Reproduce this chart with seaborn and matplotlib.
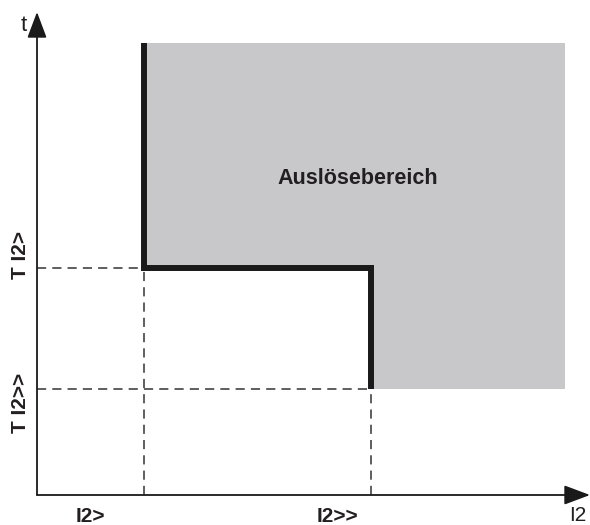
import pandas as pd
import matplotlib.pyplot as plt
import seaborn as sns

# Kennlinie: Schwellwerte (I2 in Einheiten von I2>, t in Einheiten von T I2>>)
i_pick = 1.0        # I2>
i_high = 3.12       # I2>>
t_pick = 2.14       # T I2>
t_high = 1.0        # T I2>>
i_end = 4.94        # rechter Rand Auslösebereich
t_end = 4.27        # oberer Rand Auslösebereich

x_ticklabels = ['I2>', 'I2>>']
y_ticklabels = ['T I2>', 'T I2>>']

sns.set_style('white')
plt.rcParams['font.family'] = ['Liberation Sans', 'DejaVu Sans']

fig = plt.figure(figsize=(5.9, 5.25), dpi=100)
ax = fig.add_axes([37 / 590, 30 / 525, 553 / 590, 483 / 525])
ax.set_xlim(0, 5.17)
ax.set_ylim(0, 4.56)
ax.axis('off')

# Auslösebereich (grau)
ax.fill([i_pick, i_end, i_end, i_high, i_high, i_pick],
        [t_end, t_end, t_high, t_high, t_pick, t_pick],
        color='#c8c8ca', lw=0, zorder=1)

# Hilfslinien (gestrichelt)
dash = dict(color='#333333', lw=1.1, ls=(0, (6, 4)), zorder=2)
ax.plot([0, i_pick], [t_pick, t_pick], **dash)
ax.plot([i_pick, i_pick], [0, t_pick], **dash)
ax.plot([0, i_high], [t_high, t_high], **dash)
ax.plot([i_high, i_high], [0, t_high], **dash)

# Kennlinie (dick)
curve = pd.DataFrame({'I2': [i_pick, i_pick, i_high, i_high],
                      't': [t_end, t_pick, t_pick, t_high]})
sns.lineplot(data=curve, x='I2', y='t', sort=False, estimator=None,
             color='#1a1a1a', lw=4.3, ax=ax, zorder=3)
ax.lines[-1].set_solid_capstyle('butt')
ax.lines[-1].set_solid_joinstyle('miter')

# Achsen mit Pfeilen
arrow = dict(arrowstyle='-|>,head_length=0.8,head_width=0.3',
             color='#1a1a1a', lw=1.3, mutation_scale=20, shrinkA=0, shrinkB=0)
ax.annotate('', xy=(5.17, 0), xytext=(0, 0), arrowprops=arrow,
            annotation_clip=False, zorder=4)
ax.annotate('', xy=(0, 4.56), xytext=(0, 0), arrowprops=arrow,
            annotation_clip=False, zorder=4)

# Beschriftungen
txt = dict(va='center', color='#231f20')
ax.text(3.0, 2.99, 'Auslösebereich', ha='center', fontsize=15.5,
        fontweight='bold', **txt)
ax.text(0.5, -0.2, x_ticklabels[0], ha='center', fontsize=15,
        fontweight='bold', **txt)
ax.text(2.81, -0.2, x_ticklabels[1], ha='center', fontsize=15,
        fontweight='bold', **txt)
ax.text(5.14, -0.19, 'I2', ha='right', fontsize=15, **txt)
ax.text(-0.12, 4.43, 't', ha='center', fontsize=16, **txt)
ax.text(-0.15, 2.27, y_ticklabels[0], ha='center', rotation=90, fontsize=15,
        fontweight='bold', **txt)
ax.text(-0.15, 0.87, y_ticklabels[1], ha='center', rotation=90, fontsize=15,
        fontweight='bold', **txt)

fig.savefig('out.png', dpi=100)
